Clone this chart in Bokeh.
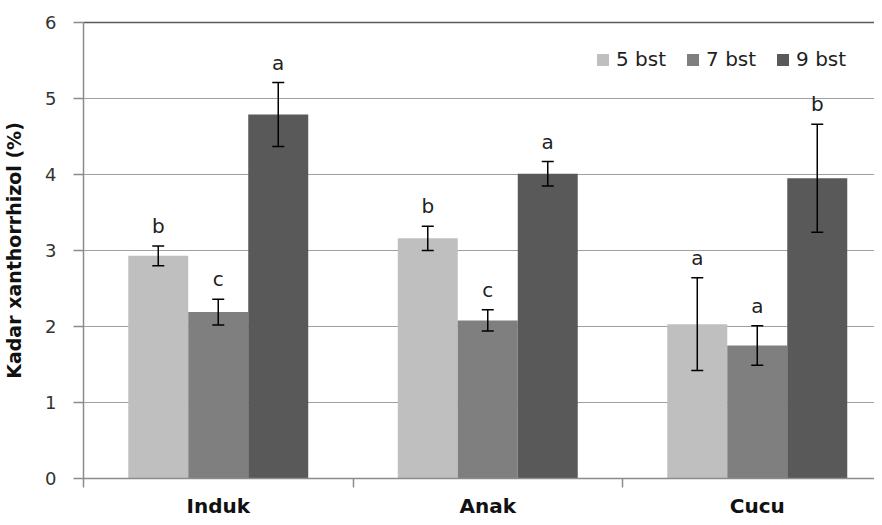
from bokeh.plotting import figure
from bokeh.models import ColumnDataSource, Range1d, FixedTicker, LinearAxis, Whisker, TeeHead
from bokeh.transform import dodge
from bokeh.core.properties import value
from bokeh.embed import file_html
from bokeh.resources import INLINE

categories = ["Induk", "Anak", "Cucu"]
series = ["5 bst", "7 bst", "9 bst"]
mean_5 = [2.93, 3.16, 2.03]
mean_7 = [2.19, 2.08, 1.75]
mean_9 = [4.79, 4.01, 3.95]
err_5 = [0.13, 0.16, 0.61]
err_7 = [0.17, 0.14, 0.26]
err_9 = [0.42, 0.16, 0.71]
letters_5 = ["b", "b", "a"]
letters_7 = ["c", "c", "a"]
letters_9 = ["a", "a", "b"]
y_ticks = [0, 1, 2, 3, 4, 5, 6]

colors = ["#BFBFBF", "#7F7F7F", "#595959"]
bar_w = 0.2226
offsets = [-bar_w, 0.0, bar_w]

centers = [i + 0.5 for i in range(len(categories))]
bounds = list(range(len(categories) + 1))

p = figure(width=874, height=520, x_range=Range1d(0, 2.935), y_range=Range1d(0, 6),
           output_backend="svg", toolbar_location=None,
           min_border_left=83, min_border_right=0, min_border_top=22, min_border_bottom=42)
p.outline_line_color = None
p.background_fill_color = "white"
p.xgrid.visible = False
p.ygrid.grid_line_color = "#A0A0A0"
p.ygrid.grid_line_width = 1.2
p.ygrid.ticker = FixedTicker(ticks=y_ticks)

means = [mean_5, mean_7, mean_9]
errs = [err_5, err_7, err_9]
lets = [letters_5, letters_7, letters_9]

for k in range(3):
    src = ColumnDataSource(dict(
        x=centers, top=means[k],
        upper=[m + e for m, e in zip(means[k], errs[k])],
        lower=[m - e for m, e in zip(means[k], errs[k])],
        letter=lets[k]))
    xd = dodge("x", offsets[k], range=p.x_range)
    p.vbar(x=xd, top="top", bottom=0, width=bar_w, source=src,
           fill_color=colors[k], line_color=None, legend_label=series[k])
    w = Whisker(base=xd, upper="upper", lower="lower", source=src, level="overlay",
                line_color="black", line_width=1.5,
                upper_head=TeeHead(size=12, line_color="black", line_width=1.5),
                lower_head=TeeHead(size=12, line_color="black", line_width=1.5))
    p.add_layout(w)
    p.text(x=xd, y="upper", text="letter", source=src, text_align="center",
           text_baseline="alphabetic", y_offset=-20, text_font=value("DejaVu Sans"),
           text_font_size="20px", text_color="#1f1f1f")

# x axis
xa = p.xaxis[0]
xa.ticker = FixedTicker(ticks=centers, minor_ticks=bounds)
xa.major_label_overrides = {c: n for c, n in zip(centers, categories)}
xa.major_tick_out = 0
xa.major_tick_in = 0
xa.minor_tick_out = 9
xa.minor_tick_in = 0
xa.minor_tick_line_color = "#8C8C8C"
xa.minor_tick_line_width = 1.5
xa.axis_line_color = "#8C8C8C"
xa.axis_line_width = 1.5
xa.major_label_text_font = "DejaVu Sans"
xa.major_label_text_font_style = "bold"
xa.major_label_text_font_size = "20px"
xa.major_label_text_color = "#111111"
xa.major_label_standoff = 6

# y axis
ya = p.yaxis[0]
ya.ticker = FixedTicker(ticks=y_ticks)
ya.major_tick_out = 10
ya.major_tick_in = 0
ya.minor_tick_out = 0
ya.minor_tick_in = 0
ya.major_tick_line_color = "#8C8C8C"
ya.major_tick_line_width = 1.5
ya.axis_line_color = "#8C8C8C"
ya.axis_line_width = 1.5
ya.major_label_text_font = "DejaVu Sans"
ya.major_label_text_font_size = "18px"
ya.major_label_text_color = "#333333"
ya.major_label_standoff = 17
ya.axis_label = "Kadar xanthorrhizol (%)"
ya.axis_label_text_font = "DejaVu Sans"
ya.axis_label_text_font_style = "bold"
ya.axis_label_text_font_size = "19px"
ya.axis_label_text_color = "#111111"
ya.axis_label_standoff = 17

# top border line
top = LinearAxis(ticker=FixedTicker(ticks=[]), major_tick_out=0, major_tick_in=0,
                 minor_tick_out=0, minor_tick_in=0, major_label_text_font_size="0px",
                 axis_line_color="#5A5A5A", axis_line_width=1.5)
p.add_layout(top, "above")

lg = p.legend[0]
lg.orientation = "horizontal"
lg.location = (512, 407)
lg.border_line_color = None
lg.background_fill_alpha = 0
lg.padding = 0
lg.margin = 0
lg.spacing = 19
lg.label_standoff = 6
lg.glyph_width = 15
lg.glyph_height = 15
lg.label_text_font = "DejaVu Sans"
lg.label_text_font_size = "20px"
lg.label_text_color = "#1f1f1f"

open("out.html", "w").write(file_html(p, INLINE))
